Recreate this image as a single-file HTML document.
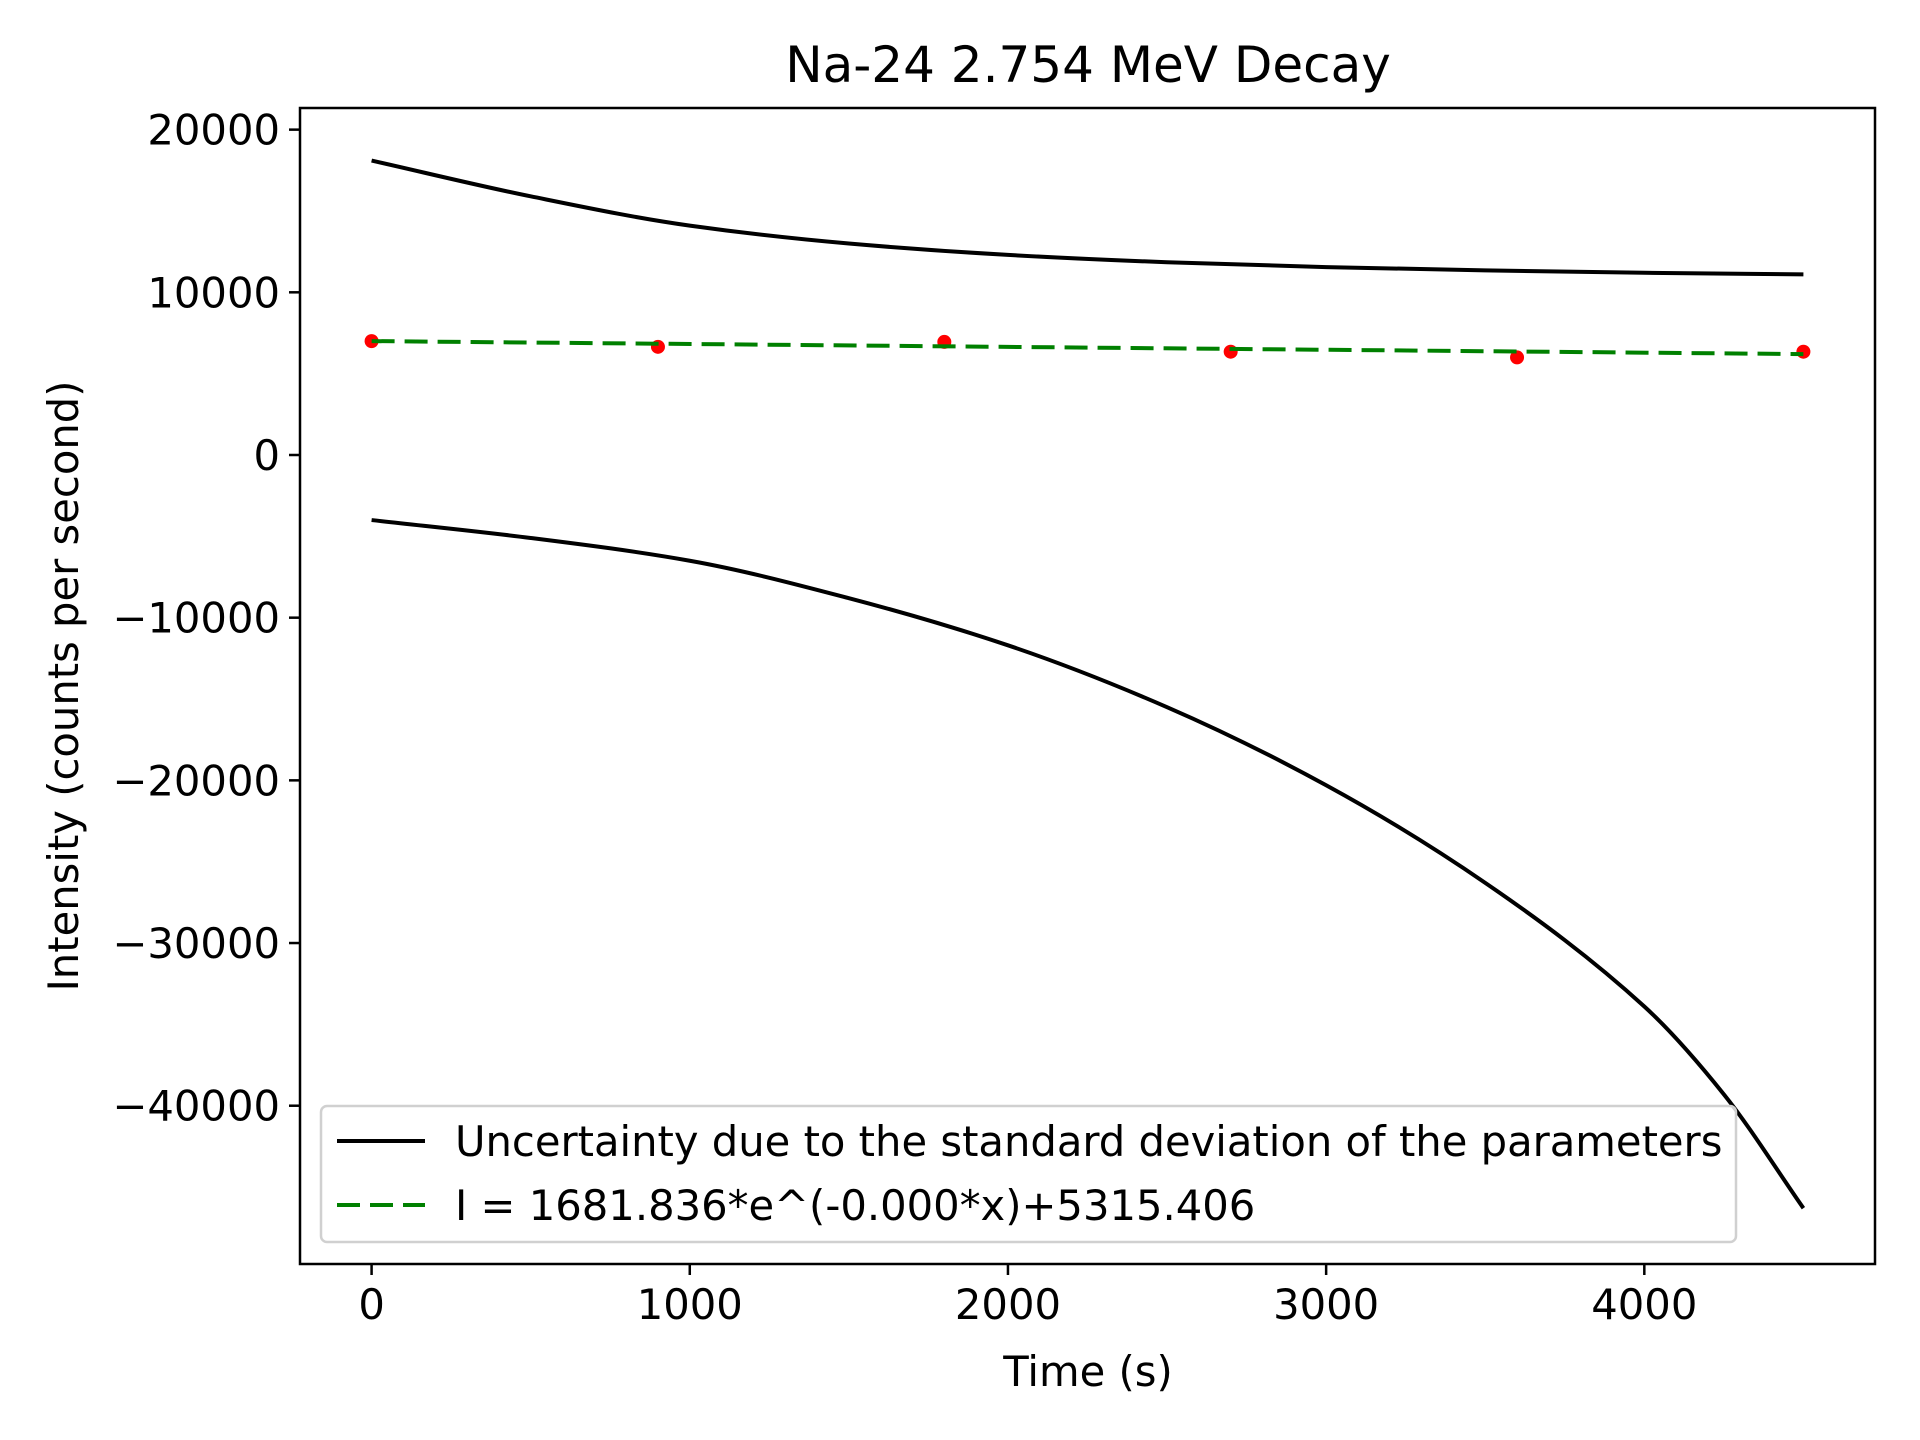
<!DOCTYPE html>
<html><head><meta charset="utf-8"><style>
body{margin:0;background:#fff}
svg{display:block;font-family:"DejaVu Sans","Liberation Sans",sans-serif}
</style></head><body>
<svg id="chart" width="1920" height="1440" viewBox="0 0 1920 1440">
<rect width="1920" height="1440" fill="#fff"/>
<text x="1088" y="82" font-size="50" text-anchor="middle">Na-24 2.754 MeV Decay</text>
<text x="1088" y="1386" font-size="41.7" text-anchor="middle">Time (s)</text>
<text transform="translate(78,686) rotate(-90)" font-size="41.7" text-anchor="middle">Intensity (counts per second)</text>
<g id="plot"></g>
</svg>
<script>
const xTicks=[0,1000,2000,3000,4000];
const yTicks=[20000,10000,0,-10000,-20000,-30000,-40000];
const upperX=[0,500,1000,1500,2000,2500,3000,3500,4000,4500];
const upperY=[18100,15900,14100,13000,12300,11850,11550,11350,11200,11100];
const lowerX=[0,500,1000,1500,2000,2500,3000,3500,4000,4250,4500];
const lowerY=[-4000,-5100,-6500,-8800,-11700,-15500,-20300,-26300,-33900,-39300,-46300];
const fitX=[0,4500];
const fitY=[7000,6200];
const pointX=[0,900,1800,2700,3600,4500];
const pointY=[7000,6650,6950,6350,6000,6350];
const L=300,R=1875,T=108,B=1264;
const xmin=-225,xmax=4725,ymin=-49730,ymax=21330;
const sx=v=>L+(v-xmin)/(xmax-xmin)*(R-L);
const sy=v=>B-(v-ymin)/(ymax-ymin)*(B-T);
const NS="http://www.w3.org/2000/svg";
const g=document.getElementById('plot');
function mk(tag,attrs,parent){const e=document.createElementNS(NS,tag);for(const k in attrs)e.setAttribute(k,attrs[k]);(parent||g).appendChild(e);return e;}
function path(xs,ys){return xs.map((x,i)=>(i?'L':'M')+sx(x).toFixed(1)+','+sy(ys[i]).toFixed(1)).join('');}
// monotone cubic (Fritsch-Carlson) in screen space
function smooth(xs,ys){const n=xs.length,X=xs.map(sx),Y=ys.map(sy),d=[],m=[];
for(let i=0;i<n-1;i++)d.push((Y[i+1]-Y[i])/(X[i+1]-X[i]));
m[0]=d[0];m[n-1]=d[n-2];for(let i=1;i<n-1;i++)m[i]=d[i-1]*d[i]<=0?0:2/(1/d[i-1]+1/d[i]);
let s='M'+X[0]+','+Y[0];for(let i=0;i<n-1;i++){const h=(X[i+1]-X[i])/3;s+=`C${X[i]+h},${Y[i]+m[i]*h} ${X[i+1]-h},${Y[i+1]-m[i+1]*h} ${X[i+1]},${Y[i+1]}`;}return s;}
let e;
e=mk('path',{d:smooth(upperX,upperY),fill:'none',stroke:'#000','stroke-width':4});


e=mk('path',{d:smooth(lowerX,lowerY),fill:'none',stroke:'#000','stroke-width':4});


pointX.forEach((x,i)=>{e=mk('circle',{cx:sx(x),cy:sy(pointY[i]),r:7,fill:'#ff0000'});

});
e=mk('path',{d:path(fitX,fitY),fill:'none',stroke:'#008000','stroke-width':4,'stroke-dasharray':'23 10'});


e=mk('rect',{x:L,y:T,width:R-L,height:B-T,fill:'none',stroke:'#000','stroke-width':2.5});


xTicks.forEach(v=>{mk('line',{x1:sx(v),x2:sx(v),y1:B,y2:B+11,stroke:'#000','stroke-width':2.5});
e=mk('text',{x:sx(v),y:B+55,'font-size':41.7,'text-anchor':'middle'});e.textContent=v;

});
yTicks.forEach(v=>{mk('line',{x1:L-11,x2:L,y1:sy(v),y2:sy(v),stroke:'#000','stroke-width':2.5});
e=mk('text',{x:L-20,y:sy(v)+15,'font-size':41.7,'text-anchor':'end'});e.textContent=v<0?'\u2212'+(-v):v;

});
const lg=mk('g',{});


mk('rect',{x:321,y:1106,width:1415,height:136,rx:6,fill:'#fff','fill-opacity':0.8,stroke:'#d0d0d0','stroke-width':2.5},lg);
mk('line',{x1:337,x2:425,y1:1141,y2:1141,stroke:'#000','stroke-width':4},lg);
mk('line',{x1:337,x2:425,y1:1205,y2:1205,stroke:'#008000','stroke-width':4,'stroke-dasharray':'23 10'},lg);
e=mk('text',{x:455,y:1156,'font-size':41.7},lg);e.textContent='Uncertainty due to the standard deviation of the parameters';


e=mk('text',{x:455,y:1220,'font-size':41.7},lg);e.textContent='I = 1681.836*e^(-0.000*x)+5315.406';


</script>
</body></html>
